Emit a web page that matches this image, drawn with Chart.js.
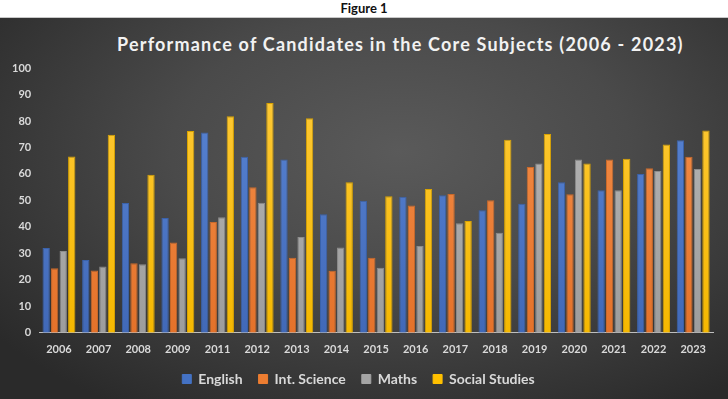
<!DOCTYPE html>
<html>
<head>
<meta charset="utf-8">
<script src="https://cdn.jsdelivr.net/npm/chart.js@4"></script>
<style>
  html, body { margin: 0; padding: 0; background: #fff; }
  #page { position: relative; width: 728px; height: 399px; overflow: hidden; }
  #fig { position: absolute; left: 0; top: 0; width: 728px; height: 16px; line-height: 16px;
         text-align: center; font: bold 13px Lato, sans-serif; color: #111; }
  #box { position: absolute; left: 0; top: 17px; width: 728px; height: 382px;
         border-top: 1px solid #c8c8c8; box-sizing: border-box;
         background: radial-gradient(ellipse 70% 80% at 55% 35%, #5a5a5a 0%, #4a4a4a 45%, #2a2a2a 100%); }
  #title { position: absolute; left: 117px; top: 15px; width: 600px; text-align: left;
           font: bold 18px Lato, sans-serif; letter-spacing: 1.2px; color: #f2f2f2; }
  #wrap { position: absolute; left: 0; top: 0; width: 728px; height: 381px; }
</style>
</head>
<body>
<div id="page">
  <div id="fig">Figure 1</div>
  <div id="box">
    <div id="title">Performance of Candidates in the Core Subjects (2006 - 2023)</div>
    <div id="wrap"><canvas id="my-chart"></canvas></div>
  </div>
</div>
<script>
const years = ['2006', '2007', '2008', '2009', '2011', '2012', '2013', '2014', '2015',
               '2016', '2017', '2018', '2019', '2020', '2021', '2022', '2023']

const english = [32, 27.5, 49, 43.4, 75.6, 66.5, 65.4, 44.8, 49.9, 51.4, 51.9, 46.3, 48.7, 56.9, 53.8, 60, 72.7]
const intScience = [24.4, 23.5, 26.3, 34.1, 41.8, 55, 28.3, 23.4, 28.3, 48.1, 52.4, 50.1, 62.6, 52.3, 65.4, 62.1, 66.5]
const maths = [30.9, 25, 25.9, 28.2, 43.6, 49.1, 36.2, 32.2, 24.6, 32.8, 41.4, 37.8, 63.9, 65.4, 53.8, 61.1, 61.9]
const socialStudies = [66.6, 74.8, 59.7, 76.2, 81.8, 86.8, 81, 56.9, 51.6, 54.3, 42.2, 72.9, 75.1, 63.9, 65.7, 71.1, 76.4]

const ctx = document.querySelector('#my-chart').getContext('2d')

const tickFont = { family: 'Lato, sans-serif', size: 11, weight: 'bold' }

// lighter at the top of each bar, like the office preset
const barFill = (top, bottom) => (c) => {
    const area = c.chart.chartArea
    if (!area) return bottom
    const g = c.chart.ctx.createLinearGradient(0, area.top, 0, area.bottom)
    g.addColorStop(0, top)
    g.addColorStop(1, bottom)
    return g
}

const makeSet = (label, values, top, bottom, edge) => ({
    label: label,
    data: values,
    backgroundColor: barFill(top, bottom),
    borderColor: edge,
    borderWidth: 1,
    categoryPercentage: 0.86,
    barPercentage: 0.86
})

const config = {
    type: 'bar',
    data: {
        labels: years,
        datasets: [
            makeSet('English', english, '#5a86d6', '#4169b8', '#3a62ab'),
            makeSet('Int. Science', intScience, '#f5904a', '#e4722a', '#c9692a'),
            makeSet('Maths', maths, '#b8b8b8', '#9d9d9d', '#8c8c8c'),
            makeSet('Social Studies', socialStudies, '#ffca3a', '#f5b800', '#d9a300')
        ]
    },
    options: {
        responsive: true,
        maintainAspectRatio: false,
        animation: false,
        layout: { padding: { top: 50, right: 15, left: 4, bottom: 3 } },
        plugins: {
            title: { display: false },
            tooltip: { enabled: false },
            legend: {
                position: 'bottom',
                labels: {
                    color: '#d9d9d9',
                    font: { family: 'Lato, sans-serif', size: 14, weight: 'bold' },
                    boxWidth: 9,
                    boxHeight: 9,
                    padding: 16,
                    generateLabels: (chart) => {
                        const items = Chart.defaults.plugins.legend.labels.generateLabels(chart)
                        const solid = ['#4472C4', '#ED7D31', '#A5A5A5', '#FFC000']
                        items.forEach((it, i) => { it.fillStyle = solid[i]; it.strokeStyle = solid[i] })
                        return items
                    }
                }
            }
        },
        scales: {
            x: {
                grid: { display: false, drawTicks: false },
                border: { display: true, color: '#bfbfbf', width: 1 },
                ticks: { color: '#d9d9d9', font: tickFont, padding: 10 },
                // tighten the gap between the year labels and the legend
                afterFit: (scale) => { scale.height -= 10 }
            },
            y: {
                min: 0,
                max: 100,
                grid: { display: false, drawTicks: false },
                border: { display: false },
                ticks: { stepSize: 10, color: '#d9d9d9', font: tickFont, padding: 8 }
            }
        }
    }
}

const myChart = new Chart(ctx, config)
</script>
</body>
</html>
